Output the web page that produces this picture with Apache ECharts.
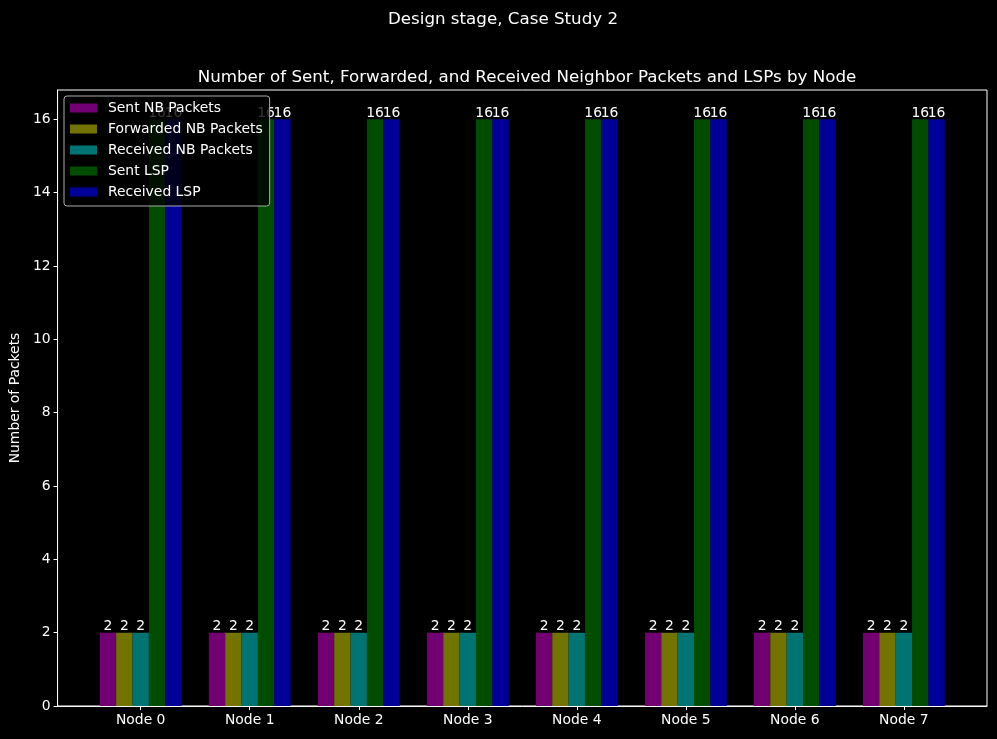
<!DOCTYPE html>
<html>
<head>
<meta charset="utf-8">
<script src="https://cdn.jsdelivr.net/npm/echarts@6/dist/echarts.min.js"></script>
<style>
  html, body { margin: 0; padding: 0; background: #000; }
  #chart { width: 997px; height: 739px; }
</style>
</head>
<body>
<div id="chart"></div>
<script>
// data
var nodes = ["Node 0", "Node 1", "Node 2", "Node 3", "Node 4", "Node 5", "Node 6", "Node 7"];
var sentNB = [2, 2, 2, 2, 2, 2, 2, 2];
var forwardedNB = [2, 2, 2, 2, 2, 2, 2, 2];
var receivedNB = [2, 2, 2, 2, 2, 2, 2, 2];
var sentLSP = [16, 16, 16, 16, 16, 16, 16, 16];
var receivedLSP = [16, 16, 16, 16, 16, 16, 16, 16];
var yTicks = [0, 2, 4, 6, 8, 10, 12, 14, 16];

var seriesDefs = [
  { name: "Sent NB Packets", values: sentNB, color: "#730073" },
  { name: "Forwarded NB Packets", values: forwardedNB, color: "#737300" },
  { name: "Received NB Packets", values: receivedNB, color: "#007373" },
  { name: "Sent LSP", values: sentLSP, color: "#004d00" },
  { name: "Received LSP", values: receivedLSP, color: "#000099" }
];

var font = "DejaVu Sans";
var fs = 13.9;
var xIdx = nodes.map(function (n, i) { return i; });
// bar width = 0.15 data units on an axis running from -0.7625 to 7.7625 over 930px
var barW = 0.15 * 930 / 8.525;

var chart = echarts.init(document.getElementById("chart"));

var option = {
  backgroundColor: "#000",
  animation: false,
  textStyle: { fontFamily: font, color: "#fff" },
  title: [
    {
      text: "Design stage, Case Study 2",
      left: 498, top: 6, textAlign: "center",
      textStyle: { color: "#fff", fontSize: 16.7, fontWeight: "normal", fontFamily: font }
    },
    {
      text: "Number of Sent, Forwarded, and Received Neighbor Packets and LSPs by Node",
      left: 522, top: 64, textAlign: "center",
      textStyle: { color: "#fff", fontSize: 16.7, fontWeight: "normal", fontFamily: font }
    }
  ],
  legend: {
    orient: "vertical",
    left: 64, top: 96,
    padding: [4, 7, 6, 6],
    itemWidth: 27, itemHeight: 9, itemGap: 5,
    backgroundColor: "rgba(0,0,0,0.8)",
    borderColor: "#aaaaaa", borderWidth: 1, borderRadius: 3,
    icon: "rect",
    z: 10,
    textStyle: { color: "#fff", fontSize: fs, lineHeight: 16, fontFamily: font, padding: [0, 0, 0, 6] },
    data: seriesDefs.map(function (s) { return s.name; })
  },
  grid: {
    left: 57, top: 90, width: 930, height: 616,
    show: true, borderColor: "#fff", borderWidth: 1, backgroundColor: "#000"
  },
  xAxis: {
    type: "value",
    min: -0.7625, max: 7.7625,
    axisLine: { show: true, onZero: false, lineStyle: { color: "#fff" } },
    axisTick: { show: true, length: 4, lineStyle: { color: "#fff" }, customValues: xIdx },
    axisLabel: {
      color: "#fff", fontSize: fs, fontFamily: font, margin: 7,
      customValues: xIdx,
      formatter: function (v) { return nodes[Math.round(v)]; }
    },
    splitLine: { show: false }
  },
  yAxis: {
    type: "value",
    min: 0, max: 16.8,
    name: "Number of Packets",
    nameLocation: "middle",
    nameGap: 34,
    nameTextStyle: { color: "#fff", fontSize: fs, fontFamily: font },
    axisLine: { show: true, onZero: false, lineStyle: { color: "#fff" } },
    axisTick: { show: true, length: 4, lineStyle: { color: "#fff" }, customValues: yTicks },
    axisLabel: { color: "#fff", fontSize: fs, fontFamily: font, margin: 7, customValues: yTicks },
    splitLine: { show: false }
  },
  series: seriesDefs.map(function (s) {
    return {
      name: s.name,
      type: "bar",
      barWidth: barW,
      barGap: "0%",
      itemStyle: { color: s.color },
      label: {
        show: true, position: "top", distance: -1,
        color: "#fff", fontSize: fs, lineHeight: 14, fontFamily: font,
        formatter: function (p) { return p.value[1]; }
      },
      data: s.values.map(function (v, i) { return [xIdx[i], v]; })
    };
  })
};

chart.setOption(option);
</script>
</body>
</html>
